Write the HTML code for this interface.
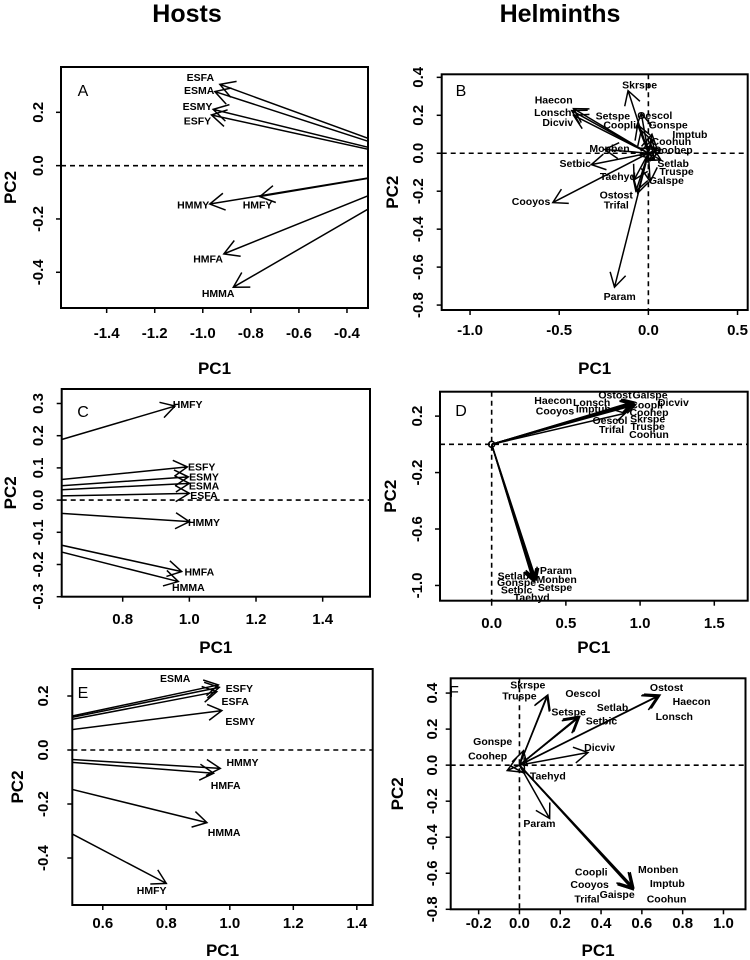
<!DOCTYPE html>
<html><head><meta charset="utf-8">
<style>
html,body{margin:0;padding:0;background:#fff;}
svg{display:block;font-family:"Liberation Sans",Arial,sans-serif;}
.tick{font-size:15px;font-weight:bold;fill:#000;}
.ttl{font-size:17px;font-weight:bold;fill:#000;}
.lab{font-size:10.5px;font-weight:bold;fill:#000;}
.let{font-size:16px;fill:#000;}
</style></head><body>
<svg id="fig" width="750" height="960" viewBox="0 0 750 960">
<text x="187" y="22" text-anchor="middle" style="font-size:25px;font-weight:bold">Hosts</text>
<text x="560" y="22" text-anchor="middle" style="font-size:25px;font-weight:bold">Helminths</text>
</svg>
<script>
// Panel A (hosts)
const aNames=["ESFA","ESMA","ESMY","ESFY","HMFY","HMMY","HMFA","HMMA"];
const aPC1=[-0.929,-0.95,-0.957,-0.964,-0.7625,-0.971,-0.9125,-0.873];
const aPC2=[0.305,0.278,0.211,0.19,-0.116,-0.144,-0.331,-0.456];
const aLabPC1=[-1.01,-1.015,-1.022,-1.022,-0.772,-1.04,-0.978,-0.936];
const aLabPC2=[0.33,0.281,0.221,0.168,-0.147,-0.147,-0.351,-0.479];
// Panel B (helminths)
const bNames=["Skrspe","Haecon","Lonsch","Dicviv","Setspe","Oescol","Coopli","Gonspe","Imptub","Coohun","Coobep","Monben","Setbic","Setlab","Truspe","Taehyd","Galspe","Ostost","Trifal","Cooyos","Param"];
const bPC1=[-0.114,-0.42,-0.43,-0.42,-0.06,-0.04,-0.04,0.02,0.07,0.02,0.045,-0.245,-0.32,0.035,0.07,-0.08,0.01,-0.06,-0.07,-0.536,-0.19];
const bPC2=[0.33,0.235,0.225,0.2,0.15,0.21,0.12,0.1,0.02,0.07,0.02,0.02,-0.06,-0.035,-0.035,-0.14,-0.15,-0.21,-0.2,-0.26,-0.706];
const bLabPC1=[-0.049,-0.531,-0.536,-0.508,-0.199,0.036,-0.161,0.111,0.233,0.129,0.139,-0.218,-0.41,0.139,0.158,-0.171,0.101,-0.18,-0.18,-0.658,-0.161];
const bLabPC2=[0.359,0.281,0.216,0.162,0.197,0.199,0.149,0.149,0.10,0.062,0.018,0.025,-0.053,-0.053,-0.097,-0.123,-0.144,-0.221,-0.274,-0.255,-0.756];
// Panel C (hosts)
const cNames=["HMFY","ESFY","ESMY","ESMA","ESFA","HMMY","HMFA","HMMA"];
const cPC1=[0.957,0.994,0.997,1.0,1.0,1.0,0.977,0.967];
const cPC2=[0.292,0.103,0.072,0.052,0.021,-0.067,-0.222,-0.253];
const cLabPC1=[0.995,1.037,1.044,1.044,1.044,1.044,1.03,0.997];
const cLabPC2=[0.297,0.103,0.071,0.043,0.014,-0.069,-0.224,-0.271];
// Panel D (helminths)
const dNames=["Ostost","Galspe","Haecon","Lonsch","Dicviv","Coopli","Cooyos","Imptub","Coohep","Oescol","Skrspe","Trifal","Truspe","Coohun","Param","Setlab","Monben","Gonspe","Setspe","Setbic","Taehyd"];
const dPC1=[0.95,0.96,0.94,0.95,0.97,0.955,0.94,0.95,0.96,0.9,0.955,0.95,0.955,0.96,0.29,0.28,0.3,0.285,0.29,0.28,0.29];
const dPC2=[0.3,0.3,0.29,0.29,0.28,0.29,0.285,0.29,0.285,0.22,0.29,0.285,0.29,0.285,-0.95,-0.96,-0.96,-0.965,-0.96,-0.97,-0.97];
const dLabPC1=[0.831,1.067,0.415,0.674,1.224,1.044,0.427,0.685,1.06,0.797,1.051,0.808,1.051,1.06,0.433,0.146,0.438,0.168,0.427,0.168,0.27];
const dLabPC2=[0.35,0.35,0.309,0.298,0.298,0.279,0.236,0.25,0.227,0.168,0.18,0.106,0.125,0.071,-0.895,-0.933,-0.957,-0.978,-1.016,-1.032,-1.087];
// Panel E (hosts)
const eNames=["ESMA","ESFY","ESFA","ESMY","HMMY","HMFA","HMMA","HMFY"];
const ePC1=[0.964,0.967,0.959,0.975,0.97,0.949,0.928,0.8];
const ePC2=[0.241,0.232,0.216,0.146,-0.068,-0.086,-0.269,-0.494];
const eLabPC1=[0.828,1.03,1.017,1.033,1.04,0.987,0.982,0.754];
const eLabPC2=[0.265,0.228,0.179,0.105,-0.047,-0.132,-0.305,-0.521];
// Panel F (helminths)
const fNames=["Skrspe","Truspe","Oescol","Setlab","Setspe","Setbic","Ostost","Haecon","Lonsch","Gonspe","Coohep","Dicviv","Taehyd","Param","Coopli","Cooyos","Trifal","Gaispe","Monben","Imptub","Coohun"];
const fPC1=[0.139,0.135,0.29,0.295,0.29,0.285,0.689,0.68,0.675,0.02,-0.06,0.336,0.025,0.148,0.55,0.555,0.557,0.557,0.56,0.557,0.555];
const fPC2=[0.389,0.385,0.27,0.269,0.265,0.26,0.389,0.385,0.38,0.08,-0.03,0.07,-0.046,-0.296,-0.68,-0.685,-0.685,-0.69,-0.68,-0.685,-0.69];
const fLabPC1=[0.041,0.0,0.311,0.456,0.241,0.402,0.721,0.844,0.759,-0.131,-0.156,0.393,0.139,0.098,0.352,0.344,0.331,0.479,0.68,0.725,0.721];
const fLabPC2=[0.444,0.383,0.398,0.32,0.296,0.244,0.431,0.352,0.269,0.13,0.052,0.098,-0.061,-0.324,-0.593,-0.663,-0.744,-0.719,-0.58,-0.657,-0.744];
// tick values
const aXT=[-1.4,-1.2,-1.0,-0.8,-0.6,-0.4], aYT=[-0.4,-0.2,0.0,0.2];
const bXT=[-1.0,-0.5,0.0,0.5], bYT=[-0.8,-0.6,-0.4,-0.2,0.0,0.2,0.4];
const cXT=[0.8,1.0,1.2,1.4], cYT=[-0.3,-0.2,-0.1,0.0,0.1,0.2,0.3];
const dXT=[0.0,0.5,1.0,1.5], dYT=[-1.0,-0.6,-0.2,0.2];
const eXT=[0.6,0.8,1.0,1.2,1.4], eYT=[-0.4,-0.2,0.0,0.2];
const fXT=[-0.2,0.0,0.2,0.4,0.6,0.8,1.0], fYT=[-0.8,-0.6,-0.4,-0.2,0.0,0.2,0.4];

const NS="http://www.w3.org/2000/svg";
const svg=document.getElementById('fig');
function mk(tag,attrs,parent){const e=document.createElementNS(NS,tag);for(const k in attrs)e.setAttribute(k,attrs[k]);(parent||svg).appendChild(e);return e;}
function fmt(v,d){return v.toFixed(d).replace('-0.0','0.0').replace(/^-0$/,'0');}

function panel(p){
  const sx=v=>p.bx0+(v-p.dx0)/(p.dx1-p.dx0)*(p.bx1-p.bx0);
  const sy=v=>p.by0+(p.dy1-v)/(p.dy1-p.dy0)*(p.by1-p.by0);
  const g=mk('g',{});
  
  
  const cp=mk('clipPath',{id:'clip'+p.id},g);
  mk('rect',{x:p.bx0,y:p.by0,width:p.bx1-p.bx0,height:p.by1-p.by0},cp);
  if(0>p.dy0&&0<p.dy1){const l=mk('line',{x1:p.bx0,x2:p.bx1,y1:sy(0),y2:sy(0),stroke:'#000','stroke-width':1.6,'stroke-dasharray':'5,4'},g);
    }
  if(0>p.dx0&&0<p.dx1){const l=mk('line',{y1:p.by0,y2:p.by1,x1:sx(0),x2:sx(0),stroke:'#000','stroke-width':1.6,'stroke-dasharray':'5,4'},g);
    }
  const ag=mk('g',{'clip-path':'url(#clip'+p.id+')',stroke:'#000','stroke-width':1.5,fill:'none'},g);
  const L=p.head;
  for(let i=0;i<p.names.length;i++){
    const x0=sx(0),y0=sy(0),x1=sx(p.px[i]),y1=sy(p.py[i]);
    const a=Math.atan2(y1-y0,x1-x0);
    const d=`M${x0},${y0}L${x1},${y1}M${x1-L*Math.cos(a-0.5236)},${y1-L*Math.sin(a-0.5236)}L${x1},${y1}L${x1-L*Math.cos(a+0.5236)},${y1-L*Math.sin(a+0.5236)}`;
    const ar=mk('path',{d:d},ag);
    
    
    const t=mk('text',{x:sx(p.lx[i]),y:sy(p.ly[i])+3.5,'text-anchor':'middle',class:'lab'},g);
    t.textContent=p.names[i];
    
    
  }
  if(p.origin){const c=mk('circle',{cx:sx(0),cy:sy(0),r:3,fill:'none',stroke:'#000','stroke-width':1.5},g);
    }
  const box=mk('rect',{x:p.bx0,y:p.by0,width:p.bx1-p.bx0,height:p.by1-p.by0,fill:'none',stroke:'#000','stroke-width':2},g);
  
  p.xt.forEach(v=>{const x=sx(v);
    mk('line',{x1:x,x2:x,y1:p.by1,y2:p.by1+5,stroke:'#000','stroke-width':1.5},g);
    const t=mk('text',{x:x,y:p.xtY+5,'text-anchor':'middle',class:'tick'},g);
    t.textContent=fmt(v,1);
    });
  p.yt.forEach(v=>{const y=sy(v);
    mk('line',{x1:p.bx0-5,x2:p.bx0,y1:y,y2:y,stroke:'#000','stroke-width':1.5},g);
    const t=mk('text',{x:p.ytX+5,y:y,'text-anchor':'middle',class:'tick',transform:`rotate(-90 ${p.ytX+5} ${y})`},g);
    t.textContent=fmt(v,1);
    });
  const xt=mk('text',{x:(p.bx0+p.bx1)/2,y:p.xTitleY+6,'text-anchor':'middle',class:'ttl'},g);
  xt.textContent='PC1';
  const ym=(p.by0+p.by1)/2;
  const yt=mk('text',{x:p.yTitleX+6,y:ym,'text-anchor':'middle',class:'ttl',transform:`rotate(-90 ${p.yTitleX+6} ${ym})`},g);
  yt.textContent='PC2';
  const lt=mk('text',{x:p.letX,y:p.letY+6,'text-anchor':'middle',class:'let'},g);
  lt.textContent=p.id;
}
panel({id:'A',bx0:61,bx1:368,by0:67,by1:308,dx0:-1.59,dx1:-0.3125,dy0:-0.534,dy1:0.37,head:17,
  names:aNames,px:aPC1,py:aPC2,lx:aLabPC1,ly:aLabPC2,xt:aXT,yt:aYT,xtY:333,ytX:38,xTitleY:368,yTitleX:10,letX:83,letY:90});
panel({id:'B',bx0:441.7,bx1:747.7,by0:74.3,by1:310,dx0:-1.159,dx1:0.557,dy0:-0.826,dy1:0.416,head:16,
  names:bNames,px:bPC1,py:bPC2,lx:bLabPC1,ly:bLabPC2,xt:bXT,yt:bYT,xtY:330,ytX:418,xTitleY:368,yTitleX:392,letX:461,letY:90});
panel({id:'C',bx0:61.7,bx1:370,by0:389,by1:596.7,dx0:0.617,dx1:1.542,dy0:-0.30,dy1:0.345,head:16,
  names:cNames,px:cPC1,py:cPC2,lx:cLabPC1,ly:cLabPC2,xt:cXT,yt:cYT,xtY:619,ytX:38,xTitleY:647,yTitleX:10,letX:83,letY:411});
panel({id:'D',bx0:440,bx1:747.7,by0:391.7,by1:600.7,dx0:-0.348,dx1:1.725,dy0:-1.108,dy1:0.373,head:12,origin:true,
  names:dNames,px:dPC1,py:dPC2,lx:dLabPC1,ly:dLabPC2,xt:dXT,yt:dYT,xtY:623,ytX:417,xTitleY:647,yTitleX:390,letX:461,letY:410});
panel({id:'E',bx0:72.3,bx1:372.7,by0:669,by1:905,dx0:0.504,dx1:1.45,dy0:-0.574,dy1:0.3,head:16,
  names:eNames,px:ePC1,py:ePC2,lx:eLabPC1,ly:eLabPC2,xt:eXT,yt:eYT,xtY:923,ytX:43,xTitleY:950,yTitleX:17,letX:83,letY:692});
panel({id:'F',bx0:450.7,bx1:745.5,by0:678.3,by1:909.3,dx0:-0.337,dx1:1.108,dy0:-0.8,dy1:0.482,head:16,
  names:fNames,px:fPC1,py:fPC2,lx:fLabPC1,ly:fLabPC2,xt:fXT,yt:fYT,xtY:923,ytX:432,xTitleY:950,yTitleX:397,letX:454,letY:691});
</script>
</body></html>
